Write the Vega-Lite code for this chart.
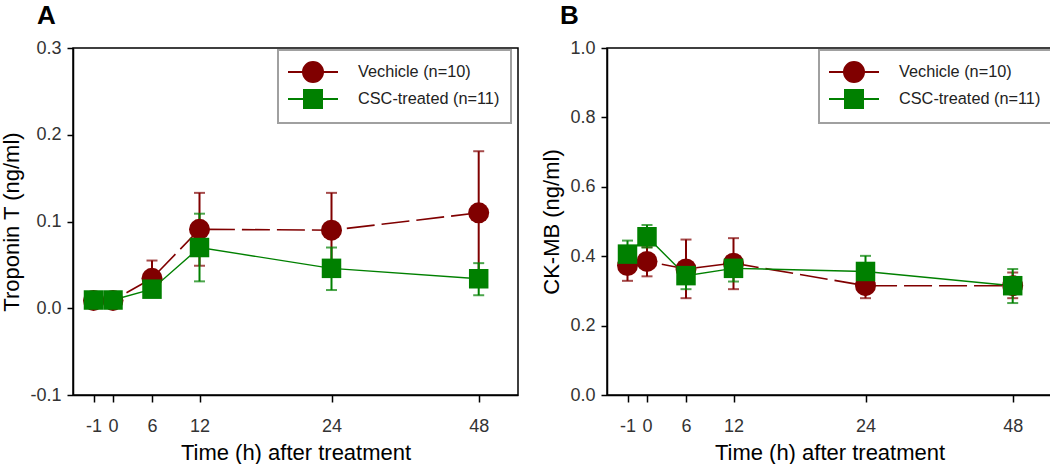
{
  "$schema": "https://vega.github.io/schema/vega-lite/v6.json",
  "padding": {"left": 0, "top": 2, "right": 0, "bottom": 0},
  "spacing": 21,
  "datasets": {
    "trop": [
      {"t": -1, "group": "Vechicle (n=10)", "mean": 0.009, "lo": 0.006, "hi": 0.012},
      {"t": 0, "group": "Vechicle (n=10)", "mean": 0.009, "lo": 0.006, "hi": 0.012},
      {"t": 6, "group": "Vechicle (n=10)", "mean": 0.0345, "lo": 0.014, "hi": 0.055},
      {"t": 12, "group": "Vechicle (n=10)", "mean": 0.091, "lo": 0.049, "hi": 0.133},
      {"t": 24, "group": "Vechicle (n=10)", "mean": 0.09, "lo": 0.047, "hi": 0.133},
      {"t": 48, "group": "Vechicle (n=10)", "mean": 0.11, "lo": 0.039, "hi": 0.181},
      {"t": -1, "group": "CSC-treated (n=11)", "mean": 0.0095, "lo": 0.007, "hi": 0.012},
      {"t": 0, "group": "CSC-treated (n=11)", "mean": 0.0095, "lo": 0.007, "hi": 0.012},
      {"t": 6, "group": "CSC-treated (n=11)", "mean": 0.022, "lo": 0.016, "hi": 0.028},
      {"t": 12, "group": "CSC-treated (n=11)", "mean": 0.07, "lo": 0.031, "hi": 0.109},
      {"t": 24, "group": "CSC-treated (n=11)", "mean": 0.046, "lo": 0.021, "hi": 0.07},
      {"t": 48, "group": "CSC-treated (n=11)", "mean": 0.034, "lo": 0.015, "hi": 0.052}
    ],
    "ck": [
      {"t": -1, "group": "Vechicle (n=10)", "mean": 0.373, "lo": 0.329, "hi": 0.416},
      {"t": 0, "group": "Vechicle (n=10)", "mean": 0.385, "lo": 0.342, "hi": 0.426},
      {"t": 6, "group": "Vechicle (n=10)", "mean": 0.363, "lo": 0.279, "hi": 0.448},
      {"t": 12, "group": "Vechicle (n=10)", "mean": 0.38, "lo": 0.305, "hi": 0.452},
      {"t": 24, "group": "Vechicle (n=10)", "mean": 0.315, "lo": 0.279, "hi": 0.351},
      {"t": 48, "group": "Vechicle (n=10)", "mean": 0.315, "lo": 0.279, "hi": 0.353},
      {"t": -1, "group": "CSC-treated (n=11)", "mean": 0.406, "lo": 0.37, "hi": 0.445},
      {"t": 0, "group": "CSC-treated (n=11)", "mean": 0.456, "lo": 0.425, "hi": 0.49},
      {"t": 6, "group": "CSC-treated (n=11)", "mean": 0.344, "lo": 0.305, "hi": 0.382},
      {"t": 12, "group": "CSC-treated (n=11)", "mean": 0.365, "lo": 0.327, "hi": 0.401},
      {"t": 24, "group": "CSC-treated (n=11)", "mean": 0.356, "lo": 0.315, "hi": 0.401},
      {"t": 48, "group": "CSC-treated (n=11)", "mean": 0.315, "lo": 0.265, "hi": 0.363}
    ]
  },
  "resolve": {"scale": {"fill": "independent", "stroke": "independent", "shape": "independent"}},
  "hconcat": [
    {
      "width": 445,
      "height": 347,
      "data": {"name": "trop"},
      "title": {"text": "A", "anchor": "start", "frame": "group", "fontSize": 26, "fontWeight": "bold", "dx": -36, "offset": 10, "color": "#000"},
      "encoding": {
        "x": {"field": "t", "type": "quantitative", "title": "Time (h) after treatment",
          "scale": {"type": "linear", "domain": [-2.05, -1, 0, 6, 12, 24, 48, 54.4], "range": [0, 20.5, 40, 79, 126.5, 258.5, 405.7, 445], "nice": false, "zero": false},
          "axis": {"values": [-1, 0, 6, 12, 24, 48], "format": "d", "labelExpr": "replace(datum.label, '\u2212', '-')"}},
        "y": {"field": "mean", "type": "quantitative", "title": "Troponin T (ng/ml)",
          "scale": {"domain": [-0.1, 0.3], "nice": false, "zero": false},
          "axis": {"values": [-0.1, 0, 0.1, 0.2, 0.3], "format": ".1f", "labelExpr": "replace(datum.label, '\u2212', '-')"}}
      },
      "layer": [
        {
          "mark": {"type": "point", "filled": true, "opacity": 0},
          "encoding": {
            "shape": {"field": "group", "type": "nominal", "scale": {"domain": ["Vechicle (n=10)", "CSC-treated (n=11)"], "range": ["M-2.5,0H-1M1,0H2.5M-1,0A1,1,0,1,1,1,0A1,1,0,1,1,-1,0Z", "M-2.5,0H-0.9M0.9,0H2.5M-0.9,-0.9H0.9V0.9H-0.9Z"]},
              "legend": {"title": null, "orient": "none", "legendX": 205, "legendY": 2, "symbolSize": 400, "symbolStrokeWidth": 2, "symbolOpacity": 1, "symbolOffset": 13, "labelFontSize": 16.3, "labelColor": "#222", "labelOffset": 34, "rowPadding": 0, "padding": 11, "strokeColor": "#a0a0a0", "fillColor": "white"}},
            "fill": {"field": "group", "type": "nominal", "scale": {"domain": ["Vechicle (n=10)", "CSC-treated (n=11)"], "range": ["#800000", "#008000"]},
              "legend": {"title": null, "orient": "none", "legendX": 205, "legendY": 2, "symbolSize": 400, "symbolStrokeWidth": 2, "symbolOpacity": 1, "symbolOffset": 13, "labelFontSize": 16.3, "labelColor": "#222", "labelOffset": 34, "rowPadding": 0, "padding": 11, "strokeColor": "#a0a0a0", "fillColor": "white"}},
            "stroke": {"field": "group", "type": "nominal", "scale": {"domain": ["Vechicle (n=10)", "CSC-treated (n=11)"], "range": ["#800000", "#008000"]},
              "legend": {"title": null, "orient": "none", "legendX": 205, "legendY": 2, "symbolSize": 400, "symbolStrokeWidth": 2, "symbolOpacity": 1, "symbolOffset": 13, "labelFontSize": 16.3, "labelColor": "#222", "labelOffset": 34, "rowPadding": 0, "padding": 11, "strokeColor": "#a0a0a0", "fillColor": "white"}}
          }
        },
        {
          "transform": [{"filter": "datum.group == 'Vechicle (n=10)'"}],
          "mark": {"type": "line", "color": "#800000", "strokeWidth": 1.6, "strokeDash": [28, 7]},
          "encoding": {}
        },
        {
          "transform": [{"filter": "datum.group == 'CSC-treated (n=11)'"}],
          "mark": {"type": "line", "color": "#008000", "strokeWidth": 1.4},
          "encoding": {}
        },
        {
          "transform": [{"filter": "datum.group == 'Vechicle (n=10)'"}],
          "mark": {"type": "errorbar", "color": "#800000", "thickness": 2, "ticks": {"size": 11, "thickness": 2}},
          "encoding": {"y": {"field": "lo", "type": "quantitative", "title": "Troponin T (ng/ml)"}, "y2": {"field": "hi"}}
        },
        {
          "transform": [{"filter": "datum.group == 'CSC-treated (n=11)'"}],
          "mark": {"type": "errorbar", "color": "#008000", "thickness": 2, "ticks": {"size": 11, "thickness": 2}},
          "encoding": {"y": {"field": "lo", "type": "quantitative", "title": "Troponin T (ng/ml)"}, "y2": {"field": "hi"}}
        },
        {
          "transform": [{"filter": "datum.group == 'Vechicle (n=10)'"}],
          "mark": {"type": "point", "shape": "circle", "filled": true, "opacity": 1, "color": "#800000", "size": 441},
          "encoding": {}
        },
        {
          "transform": [{"filter": "datum.group == 'CSC-treated (n=11)'"}],
          "mark": {"type": "point", "shape": "square", "filled": true, "opacity": 1, "color": "#008000", "size": 380},
          "encoding": {}
        }
      ]
    },
    {
      "width": 445,
      "height": 347,
      "data": {"name": "ck"},
      "title": {"text": "B", "anchor": "start", "frame": "group", "fontSize": 26, "fontWeight": "bold", "dx": -47, "offset": 10, "color": "#000"},
      "encoding": {
        "x": {"field": "t", "type": "quantitative", "title": "Time (h) after treatment",
          "scale": {"type": "linear", "domain": [-2.05, -1, 0, 6, 12, 24, 48, 54.4], "range": [0, 20.5, 40, 79, 126.5, 258.5, 405.7, 445], "nice": false, "zero": false},
          "axis": {"values": [-1, 0, 6, 12, 24, 48], "format": "d", "labelExpr": "replace(datum.label, '\u2212', '-')"}},
        "y": {"field": "mean", "type": "quantitative", "title": "CK-MB (ng/ml)",
          "scale": {"domain": [0, 1], "nice": false, "zero": false},
          "axis": {"values": [0, 0.2, 0.4, 0.6, 0.8, 1.0], "format": ".1f"}}
      },
      "layer": [
        {
          "mark": {"type": "point", "filled": true, "opacity": 0},
          "encoding": {
            "shape": {"field": "group", "type": "nominal", "scale": {"domain": ["Vechicle (n=10)", "CSC-treated (n=11)"], "range": ["M-2.5,0H-1M1,0H2.5M-1,0A1,1,0,1,1,1,0A1,1,0,1,1,-1,0Z", "M-2.5,0H-0.9M0.9,0H2.5M-0.9,-0.9H0.9V0.9H-0.9Z"]},
              "legend": {"title": null, "orient": "none", "legendX": 212, "legendY": 2, "symbolSize": 400, "symbolStrokeWidth": 2, "symbolOpacity": 1, "symbolOffset": 13, "labelFontSize": 16.3, "labelColor": "#222", "labelOffset": 34, "rowPadding": 0, "padding": 11, "strokeColor": "#a0a0a0", "fillColor": "white"}},
            "fill": {"field": "group", "type": "nominal", "scale": {"domain": ["Vechicle (n=10)", "CSC-treated (n=11)"], "range": ["#800000", "#008000"]},
              "legend": {"title": null, "orient": "none", "legendX": 212, "legendY": 2, "symbolSize": 400, "symbolStrokeWidth": 2, "symbolOpacity": 1, "symbolOffset": 13, "labelFontSize": 16.3, "labelColor": "#222", "labelOffset": 34, "rowPadding": 0, "padding": 11, "strokeColor": "#a0a0a0", "fillColor": "white"}},
            "stroke": {"field": "group", "type": "nominal", "scale": {"domain": ["Vechicle (n=10)", "CSC-treated (n=11)"], "range": ["#800000", "#008000"]},
              "legend": {"title": null, "orient": "none", "legendX": 212, "legendY": 2, "symbolSize": 400, "symbolStrokeWidth": 2, "symbolOpacity": 1, "symbolOffset": 13, "labelFontSize": 16.3, "labelColor": "#222", "labelOffset": 34, "rowPadding": 0, "padding": 11, "strokeColor": "#a0a0a0", "fillColor": "white"}}
          }
        },
        {
          "transform": [{"filter": "datum.group == 'Vechicle (n=10)'"}],
          "mark": {"type": "line", "color": "#800000", "strokeWidth": 1.6, "strokeDash": [28, 7]},
          "encoding": {}
        },
        {
          "transform": [{"filter": "datum.group == 'CSC-treated (n=11)'"}],
          "mark": {"type": "line", "color": "#008000", "strokeWidth": 1.4},
          "encoding": {}
        },
        {
          "transform": [{"filter": "datum.group == 'Vechicle (n=10)'"}],
          "mark": {"type": "errorbar", "color": "#800000", "thickness": 2, "ticks": {"size": 11, "thickness": 2}},
          "encoding": {"y": {"field": "lo", "type": "quantitative", "title": "CK-MB (ng/ml)"}, "y2": {"field": "hi"}}
        },
        {
          "transform": [{"filter": "datum.group == 'CSC-treated (n=11)'"}],
          "mark": {"type": "errorbar", "color": "#008000", "thickness": 2, "ticks": {"size": 11, "thickness": 2}},
          "encoding": {"y": {"field": "lo", "type": "quantitative", "title": "CK-MB (ng/ml)"}, "y2": {"field": "hi"}}
        },
        {
          "transform": [{"filter": "datum.group == 'Vechicle (n=10)'"}],
          "mark": {"type": "point", "shape": "circle", "filled": true, "opacity": 1, "color": "#800000", "size": 441},
          "encoding": {}
        },
        {
          "transform": [{"filter": "datum.group == 'CSC-treated (n=11)'"}],
          "mark": {"type": "point", "shape": "square", "filled": true, "opacity": 1, "color": "#008000", "size": 380},
          "encoding": {}
        }
      ]
    }
  ],
  "config": {
    "font": "Liberation Sans",
    "view": {"stroke": "#000", "strokeWidth": 1.5},
    "axis": {"domainColor": "#000", "domainWidth": 1.5, "tickColor": "#000", "tickWidth": 1.5, "tickSize": 7, "labelFontSize": 18, "labelColor": "#333", "labelFont": "Liberation Sans", "titleFontSize": 22, "titleFont": "Liberation Sans", "titleFontWeight": "normal", "titleColor": "#000", "grid": false},
    "axisX": {"labelPadding": 15, "titlePadding": 7},
    "axisY": {"labelPadding": 6, "tickSize": 6, "titlePadding": 6},
    "legend": {"strokeWidth": 2, "labelFont": "Liberation Sans"},
    "title": {"font": "Liberation Sans"}
  }
}
